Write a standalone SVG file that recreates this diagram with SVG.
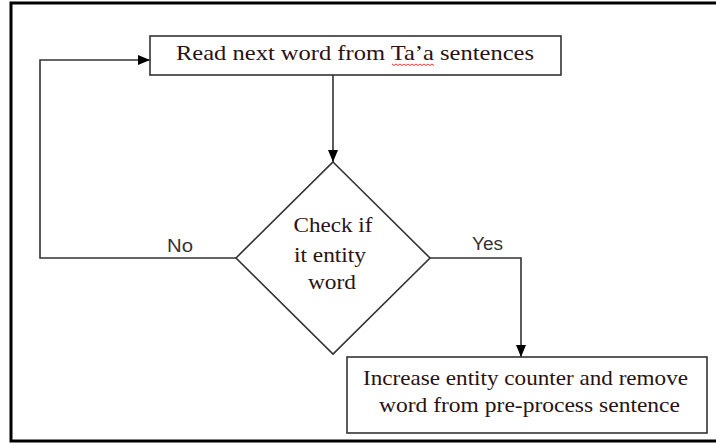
<svg xmlns="http://www.w3.org/2000/svg" width="716" height="444" viewBox="0 0 716 444">
<style>
.box{fill:#fff;stroke:#333;stroke-width:1.6}
.frame{fill:none;stroke:#000;stroke-width:3}
.conn{fill:none;stroke:#333;stroke-width:1.6}
.t{font-family:"Liberation Serif","Times New Roman",serif;font-size:21px;fill:#2a1212;text-anchor:middle}
.lbl{font-family:"Liberation Sans",Arial,sans-serif;font-size:18px;fill:#333}
</style>
<defs>
<marker id="arr" markerWidth="12" markerHeight="10" refX="12" refY="5" orient="auto" markerUnits="userSpaceOnUse">
<path d="M0,0 L12,5 L0,10 Z" fill="#000"/>
</marker>
</defs>
<rect width="716" height="444" fill="#fff"/>
<rect class="frame" x="11" y="3" width="720" height="438"/>
<g id="connectors">
<line class="conn" x1="333" y1="75" x2="333" y2="162" marker-end="url(#arr)"/>
<polyline class="conn" points="236,258 40,258 40,60 150,60" marker-end="url(#arr)"/>
<polyline class="conn" points="430,258 521,258 521,357" marker-end="url(#arr)"/>
<text class="lbl" x="167" y="252" textLength="26" lengthAdjust="spacingAndGlyphs">No</text>
<text class="lbl" x="472" y="250" textLength="31" lengthAdjust="spacingAndGlyphs">Yes</text>
</g>
<g id="read">
<rect class="box" x="150" y="36" width="411" height="39"/>
<text class="t" x="355" y="60" textLength="358" lengthAdjust="spacingAndGlyphs">Read next word from Ta’a sentences</text>
<path d="M392,64 l2,1.5 l2,-1.5 l2,1.5 l2,-1.5 l2,1.5 l2,-1.5 l2,1.5 l2,-1.5 l2,1.5 l2,-1.5 l2,1.5 l2,-1.5 l2,1.5 l2,-1.5 l2,1.5 l2,-1.5 l2,1.5 l2,-1.5 l2,1.5 l2,-1.5 l2,1.5" fill="none" stroke="#e02020" stroke-width="0.9"/>
</g>
<g id="check">
<polygon class="box" points="333,162 430,258 333,354 236,258"/>
<text class="t" x="333" y="232" textLength="79" lengthAdjust="spacingAndGlyphs">Check if</text>
<text class="t" x="330" y="262" textLength="72" lengthAdjust="spacingAndGlyphs">it entity</text>
<text class="t" x="332" y="289" textLength="48" lengthAdjust="spacingAndGlyphs">word</text>
</g>
<g id="increase">
<rect class="box" x="347" y="357" width="360" height="76"/>
<text class="t" x="525.5" y="385" textLength="325" lengthAdjust="spacingAndGlyphs">Increase entity counter and remove</text>
<text class="t" x="529.5" y="412" textLength="301" lengthAdjust="spacingAndGlyphs">word from pre-process sentence</text>
</g>
</svg>
